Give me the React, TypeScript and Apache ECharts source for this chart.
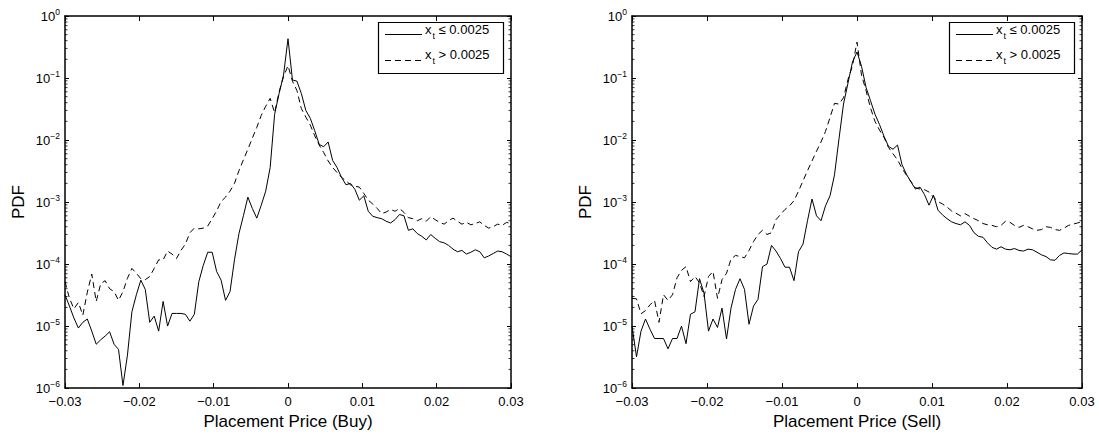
import React, { useEffect, useRef } from "react";
import * as echarts from "echarts";

const FONT = '"Liberation Sans", Arial, Helvetica, sans-serif';

// Bin centres of the placement-price histogram (step 0.0006 from -0.03 to 0.03)
const PRICE_MIN = -0.03;
const PRICE_MAX = 0.03;
const PRICE_STEP = 0.0006;
const PRICE_GRID: number[] = Array.from({ length: 101 }, (_, i) =>
  Math.round((PRICE_MIN + i * PRICE_STEP) * 1e5) / 1e5
);

const X_TICK_STEP = 0.01;
const PDF_MIN = 1e-6;
const PDF_MAX = 1;

const LEGEND_LOW = "x_t ≤ 0.0025";
const LEGEND_HIGH = "x_t > 0.0025";

// Buy side, x_t <= 0.0025 (solid)
const BUY_LOW = [
  3.2e-5, 2.1e-5, 1.35e-5, 9.3e-6, 1.15e-5, 1.3e-5, 8.3e-6, 5.1e-6, 6.0e-6, 6.9e-6,
  8.1e-6, 5.1e-6, 4.2e-6, 1.1e-6, 3.4e-6, 1.7e-5, 3.2e-5, 5.5e-5, 3.9e-5, 1.15e-5,
  1.45e-5, 8.3e-6, 2.5e-5, 1.0e-5, 1.6e-5, 1.6e-5, 1.6e-5, 1.55e-5, 1.2e-5, 1.55e-5,
  5.2e-5, 9.5e-5, 1.55e-4, 1.55e-4, 7.6e-5, 5.5e-5, 2.6e-5, 3.6e-5, 1.17e-4, 3.1e-4,
  6.0e-4, 1.2e-3, 7.9e-4, 5.5e-4, 8.9e-4, 1.5e-3, 3.6e-3, 2.6e-2, 5.6e-2, 0.112,
  0.43, 0.093, 0.089, 0.056, 0.03, 0.0224, 0.0141, 0.0085, 0.0078, 0.0093,
  0.0047, 0.0036, 0.0025, 0.0019, 0.002, 0.0016, 0.00107, 0.00126, 7.1e-4, 5.9e-4,
  5.6e-4, 5.4e-4, 4.9e-4, 4.6e-4, 5.2e-4, 6.3e-4, 6.0e-4, 3.5e-4, 3.7e-4, 3.1e-4,
  2.8e-4, 2.45e-4, 3.0e-4, 2.6e-4, 2.3e-4, 2.2e-4, 2.0e-4, 1.74e-4, 1.58e-4, 1.66e-4,
  1.45e-4, 1.55e-4, 1.7e-4, 1.58e-4, 1.26e-4, 1.35e-4, 1.48e-4, 1.62e-4, 1.58e-4, 1.45e-4,
  1.32e-4,
];

// Buy side, x_t > 0.0025 (dashed)
const BUY_HIGH = [
  5.2e-5, 2.8e-5, 1.9e-5, 2.4e-5, 1.5e-5, 3.5e-5, 6.9e-5, 2.5e-5, 4.8e-5, 5.4e-5,
  4.0e-5, 3.6e-5, 2.6e-5, 3.6e-5, 5.9e-5, 8.5e-5, 7.1e-5, 5.8e-5, 5.6e-5, 6.3e-5,
  8.5e-5, 1.17e-4, 1.17e-4, 1.62e-4, 1.45e-4, 1.23e-4, 1.66e-4, 2.1e-4, 3.2e-4, 3.8e-4,
  3.7e-4, 3.8e-4, 4.1e-4, 5.4e-4, 7.2e-4, 1.02e-3, 1.2e-3, 1.5e-3, 2.0e-3, 3.2e-3,
  4.8e-3, 7.1e-3, 1.07e-2, 1.6e-2, 2.5e-2, 3.5e-2, 4.7e-2, 2.75e-2, 6.0e-2, 0.105,
  0.158, 0.089, 0.063, 0.032, 0.0234, 0.0174, 0.0117, 0.0083, 0.0063, 0.0046,
  0.0036, 0.003, 0.0025, 0.0022, 0.0019, 0.0018, 0.00174, 0.00138, 0.00107, 9.3e-4,
  7.9e-4, 6.5e-4, 6.9e-4, 7.6e-4, 7.1e-4, 7.9e-4, 6.8e-4, 5.6e-4, 5.4e-4, 5.0e-4,
  5.4e-4, 4.9e-4, 5.8e-4, 5.2e-4, 4.7e-4, 4.4e-4, 5.0e-4, 5.5e-4, 4.9e-4, 4.4e-4,
  4.7e-4, 4.3e-4, 4.5e-4, 4.8e-4, 4.2e-4, 3.8e-4, 4.0e-4, 4.4e-4, 4.2e-4, 4.7e-4,
  4.5e-4,
];

// Sell side, x_t <= 0.0025 (solid)
const SELL_LOW = [
  1.0e-5, 3.2e-6, 8.3e-6, 1.3e-5, 8.9e-6, 6.3e-6, 6.3e-6, 6.3e-6, 4.3e-6, 6.3e-6,
  6.3e-6, 1.0e-5, 5.2e-6, 1.55e-5, 1.7e-5, 5.8e-5, 3.4e-5, 8.3e-6, 1.3e-5, 9.5e-6,
  1.95e-5, 6.2e-6, 1.95e-5, 3.9e-5, 5.8e-5, 3.9e-5, 1.07e-5, 2.1e-5, 2.7e-5, 9.1e-5,
  1.0e-4, 2.0e-4, 1.62e-4, 1.23e-4, 8.9e-5, 8.9e-5, 5.4e-5, 1.58e-4, 2.1e-4, 5.0e-4,
  1.12e-3, 6.0e-4, 5.0e-4, 8.7e-4, 1.26e-3, 2.75e-3, 1.05e-2, 3.8e-2, 8.3e-2, 0.182,
  0.263, 0.155, 0.071, 0.043, 0.026, 0.0178, 0.0115, 0.0079, 0.0071, 0.0083,
  0.004, 0.0028, 0.0021, 0.00162, 0.00174, 0.00132, 8.9e-4, 0.00129, 7.4e-4, 6.2e-4,
  5.4e-4, 4.8e-4, 4.5e-4, 4.3e-4, 4.8e-4, 4.2e-4, 3.2e-4, 2.8e-4, 2.7e-4, 2.2e-4,
  1.86e-4, 1.74e-4, 1.9e-4, 1.74e-4, 1.7e-4, 1.78e-4, 1.66e-4, 1.62e-4, 1.74e-4, 1.7e-4,
  1.55e-4, 1.41e-4, 1.32e-4, 1.17e-4, 1.15e-4, 1.38e-4, 1.51e-4, 1.48e-4, 1.45e-4, 1.45e-4,
  1.7e-4,
];

// Sell side, x_t > 0.0025 (dashed)
const SELL_HIGH = [
  2.8e-5, 2.75e-5, 1.58e-5, 1.78e-5, 2.2e-5, 2.6e-5, 1.15e-5, 3.2e-5, 2.6e-5, 3.2e-5,
  6.0e-5, 7.9e-5, 9.1e-5, 5.2e-5, 6.3e-5, 5.0e-5, 3.0e-5, 6.3e-5, 7.6e-5, 2.8e-5,
  5.6e-5, 7.1e-5, 1.2e-4, 1.38e-4, 1.32e-4, 1.26e-4, 1.66e-4, 2.3e-4, 3.0e-4, 3.5e-4,
  3.0e-4, 3.2e-4, 5.2e-4, 6.3e-4, 7.6e-4, 8.7e-4, 1.05e-3, 1.5e-3, 2.2e-3, 3.2e-3,
  4.6e-3, 6.6e-3, 9.3e-3, 1.38e-2, 2.3e-2, 3.9e-2, 3.8e-2, 4.8e-2, 9.5e-2, 0.158,
  0.38, 0.112, 0.063, 0.033, 0.02, 0.0145, 0.011, 0.0076, 0.006, 0.0048,
  0.0035, 0.0027, 0.00214, 0.0017, 0.00162, 0.00158, 0.00145, 0.0012, 0.00102, 9.3e-4,
  8.3e-4, 7.2e-4, 6.6e-4, 6.0e-4, 6.5e-4, 5.9e-4, 5.4e-4, 5.0e-4, 4.5e-4, 4.3e-4,
  4.2e-4, 4.0e-4, 4.2e-4, 4.9e-4, 4.7e-4, 4.2e-4, 3.9e-4, 4.2e-4, 4.0e-4, 3.7e-4,
  3.5e-4, 3.6e-4, 4.0e-4, 3.9e-4, 3.6e-4, 3.5e-4, 3.8e-4, 4.2e-4, 4.4e-4, 4.6e-4,
  4.8e-4,
];

// Minor ticks of the log axis: 2..9 within every decade
const MINOR_TICKS: number[] = [];
for (let e = -6; e < 0; e++) {
  for (let m = 2; m <= 9; m++) MINOR_TICKS.push(m * Math.pow(10, e));
}

const PANELS = [
  { title: "Placement Price (Buy)", low: BUY_LOW, high: BUY_HIGH, left: 65, width: 446 },
  { title: "Placement Price (Sell)", low: SELL_LOW, high: SELL_HIGH, left: 632, width: 450 },
];

const PLOT_TOP = 16;
const PLOT_HEIGHT = 377;

function priceLabel(v: number): string {
  if (Math.abs(v) < 1e-9) return "0";
  return (v < 0 ? "\u2212" : "") + Math.abs(v).toFixed(2);
}

function pdfLabel(v: number): string {
  const e = Math.round(Math.log10(v));
  const exp = e === 0 ? "0" : "\u2212" + String(-e);
  return `{b|10}{s|${exp}}`;
}

function legendText(label: string): string {
  const [base, rest] = label.split("_");
  const sub = rest.charAt(0);
  const tail = rest.slice(1);
  return `{v|${base}}{s|${sub}}{v|${tail}}`;
}

function buildOption() {
  const grid: any[] = [];
  const xAxis: any[] = [];
  const yAxis: any[] = [];
  const series: any[] = [];
  const graphic: any[] = [];

  PANELS.forEach((p, k) => {
    grid.push({ left: p.left, top: PLOT_TOP, width: p.width, height: PLOT_HEIGHT, containLabel: false });

    const xCommon = {
      type: "value",
      gridIndex: k,
      min: PRICE_MIN,
      max: PRICE_MAX,
      interval: X_TICK_STEP,
      splitLine: { show: false },
      axisLine: { show: true, onZero: false, lineStyle: { color: "#000", width: 1.5 } },
      axisTick: { show: true, inside: true, length: 5, lineStyle: { color: "#000", width: 1 } },
    };
    xAxis.push({
      ...xCommon,
      position: "bottom",
      name: p.title,
      nameLocation: "middle",
      nameGap: 17,
      nameTextStyle: { fontFamily: FONT, fontSize: 17, color: "#000" },
      axisLabel: {
        show: true,
        margin: 7,
        formatter: priceLabel,
        fontFamily: FONT,
        fontSize: 13,
        color: "#000",
      },
    });
    xAxis.push({ ...xCommon, position: "top", axisLabel: { show: false } });

    const yCommon = {
      type: "log",
      logBase: 10,
      gridIndex: k,
      min: PDF_MIN,
      max: PDF_MAX,
      splitLine: { show: false },
      minorTick: { show: false },
      axisLine: { show: true, onZero: false, lineStyle: { color: "#000", width: 1.5 } },
      axisTick: { show: true, inside: true, length: 4, lineStyle: { color: "#000", width: 1 } },
    };
    yAxis.push({
      ...yCommon,
      position: "left",
      name: "PDF",
      nameLocation: "middle",
      nameGap: 38,
      nameRotate: 90,
      nameTextStyle: { fontFamily: FONT, fontSize: 17, color: "#000" },
      axisLabel: {
        show: true,
        margin: 5,
        formatter: pdfLabel,
        color: "#000",
        rich: {
          b: { fontFamily: FONT, fontSize: 13, color: "#000", verticalAlign: "bottom", lineHeight: 14 },
          s: {
            fontFamily: FONT,
            fontSize: 8.5,
            color: "#000",
            verticalAlign: "bottom",
            lineHeight: 9,
            padding: [0, 0, 7, 0],
          },
        },
      },
    });
    yAxis.push({ ...yCommon, position: "right", axisLabel: { show: false } });

    const xIdx = k * 2;
    const yIdx = k * 2;

    series.push({
      type: "line",
      name: LEGEND_LOW,
      xAxisIndex: xIdx,
      yAxisIndex: yIdx,
      data: PRICE_GRID.map((x, i) => [x, p.low[i]]),
      showSymbol: false,
      symbol: "none",
      silent: true,
      clip: true,
      lineStyle: { color: "#000", width: 1, type: "solid" },
      z: 3,
    });
    series.push({
      type: "line",
      name: LEGEND_HIGH,
      xAxisIndex: xIdx,
      yAxisIndex: yIdx,
      data: PRICE_GRID.map((x, i) => [x, p.high[i]]),
      showSymbol: false,
      symbol: "none",
      silent: true,
      clip: true,
      lineStyle: { color: "#000", width: 1, type: [6, 4] },
      z: 3,
    });

    // Minor ticks on both vertical edges of the box
    series.push({
      type: "custom",
      xAxisIndex: xIdx,
      yAxisIndex: yIdx,
      silent: true,
      clip: false,
      data: MINOR_TICKS.map((v) => [0, v]),
      renderItem: (_params: any, api: any) => {
        const v = api.value(1);
        const pl = api.coord([PRICE_MIN, v]);
        const pr = api.coord([PRICE_MAX, v]);
        const st = { stroke: "#000", lineWidth: 0.8 };
        return {
          type: "group",
          children: [
            { type: "line", shape: { x1: pl[0], y1: pl[1], x2: pl[0] + 2.5, y2: pl[1] }, style: st },
            { type: "line", shape: { x1: pr[0] - 2.5, y1: pr[1], x2: pr[0], y2: pr[1] }, style: st },
          ],
        };
      },
      z: 4,
    });

    // Legend box in the upper right corner of each panel
    const bx = p.left + p.width - 133;
    const by = 22;
    const rich = {
      v: { fontFamily: FONT, fontSize: 13, color: "#000", lineHeight: 14, verticalAlign: "top" },
      s: {
        fontFamily: FONT,
        fontSize: 9,
        color: "#000",
        lineHeight: 10,
        verticalAlign: "top",
        padding: [8, 0, 0, 1],
      },
    };
    graphic.push(
      {
        type: "rect",
        z: 100,
        shape: { x: bx + 0.5, y: by + 0.5, width: 125, height: 51 },
        style: { fill: "#fff", stroke: "#000", lineWidth: 1.2 },
      },
      {
        type: "line",
        z: 101,
        shape: { x1: bx + 7, y1: by + 12.5, x2: bx + 44, y2: by + 12.5 },
        style: { stroke: "#000", lineWidth: 1 },
      },
      {
        type: "line",
        z: 101,
        shape: { x1: bx + 7, y1: by + 38.5, x2: bx + 44, y2: by + 38.5 },
        style: { stroke: "#000", lineWidth: 1, lineDash: [6, 4] },
      },
      {
        type: "text",
        z: 101,
        x: bx + 47,
        y: by + 1,
        style: { text: legendText(LEGEND_LOW), rich, align: "left", verticalAlign: "top", fill: "#000" },
      },
      {
        type: "text",
        z: 101,
        x: bx + 47,
        y: by + 26,
        style: { text: legendText(LEGEND_HIGH), rich, align: "left", verticalAlign: "top", fill: "#000" },
      }
    );
  });

  return {
    animation: false,
    backgroundColor: "#fff",
    textStyle: { fontFamily: FONT, color: "#000" },
    grid,
    xAxis,
    yAxis,
    series,
    graphic,
  };
}

export default function App() {
  const ref = useRef<HTMLDivElement | null>(null);

  useEffect(() => {
    if (!ref.current) return;
    const chart = echarts.init(ref.current, undefined, { renderer: "svg" });
    chart.setOption(buildOption());
    return () => chart.dispose();
  }, []);

  return (
    <div
      ref={ref}
      style={{ position: "fixed", left: 0, top: 0, width: 1099, height: 435, background: "#fff" }}
    />
  );
}
